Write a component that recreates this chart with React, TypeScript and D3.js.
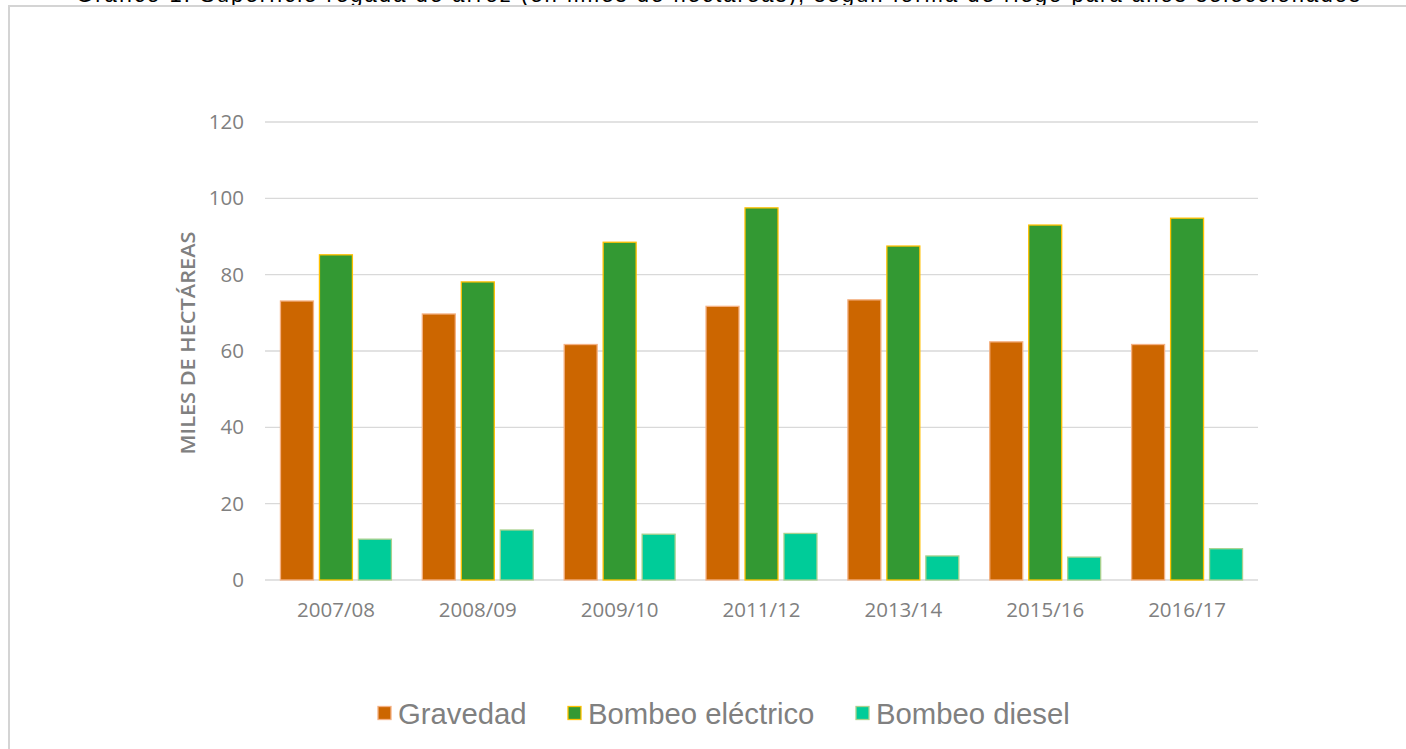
import React, { useRef, useEffect } from "react";
import * as d3 from "d3";

const categories = ["2007/08", "2008/09", "2009/10", "2011/12", "2013/14", "2015/16", "2016/17"];
const seriesNames = ["Gravedad", "Bombeo eléctrico", "Bombeo diesel"];
const gravedad = [73.1, 69.7, 61.7, 71.7, 73.4, 62.4, 61.7];
const bombeoElectrico = [85.2, 78.1, 88.5, 97.5, 87.5, 93.0, 94.8];
const bombeoDiesel = [10.7, 13.1, 12.0, 12.2, 6.3, 6.0, 8.2];
const yTicks = [0, 20, 40, 60, 80, 100, 120];
const title =
  "Gráfico 1. Superficie regada de arroz (en miles de hectáreas), según forma de riego para años seleccionados";

const fills = ["#cc6600", "#339933", "#00cc99"];
const strokes = ["#f4b183", "#ffc000", "#a9d18e"];

function App() {
  const svgRef = useRef<SVGSVGElement>(null);

  useEffect(() => {
    const width = 1406;
    const height = 749;
    const svg = d3.select(svgRef.current);
    svg.selectAll("*").remove();
    svg.attr("width", width).attr("height", height);

    svg.append("rect").attr("width", width).attr("height", height).attr("fill", "#fff");

    // caption, cut off at the top edge like in the source page
    svg.append("text")
      .attr("x", 76)
      .attr("y", 1.5)
      .attr("textLength", 1284)
      .attr("lengthAdjust", "spacing")
      .style("font-family", "'Liberation Sans', Arial, sans-serif")
      .style("font-size", "22px")
      .attr("fill", "#000")
      .text(title);

    // frame
    svg.append("rect")
      .attr("x", 9)
      .attr("y", 6)
      .attr("width", 1420)
      .attr("height", 800)
      .attr("fill", "none")
      .attr("stroke", "#d4d4d4")
      .attr("stroke-width", 2);

    const left = 265, right = 1258, top = 122, bottom = 580;

    const x = d3.scaleBand<string>()
      .domain(categories)
      .range([left, right])
      .paddingInner(0.218)
      .paddingOuter(0.109);

    const xs = d3.scaleBand<string>()
      .domain(seriesNames)
      .range([0, x.bandwidth()])
      .paddingInner(0.154);

    const y = d3.scaleLinear().domain([0, 120]).range([bottom, top]);

    // grid
    svg.append("g")
      .selectAll("line")
      .data(yTicks)
      .join("line")
      .attr("x1", left)
      .attr("x2", right)
      .attr("y1", d => y(d))
      .attr("y2", d => y(d))
      .attr("stroke", "#d9d9d9")
      .attr("stroke-width", 1.3);

    const font = "'Open Sans', sans-serif";

    const yAxis = d3.axisLeft(y).tickValues(yTicks).tickSize(0).tickPadding(21);
    const gy = svg.append("g").attr("transform", `translate(${left},0)`).call(yAxis);
    gy.select(".domain").remove();
    gy.selectAll("text")
      .style("font-family", font)
      .style("font-size", "20.5px")
      .attr("fill", "#808080");

    const xAxis = d3.axisBottom(x).tickSize(0).tickPadding(22);
    const gx = svg.append("g").attr("transform", `translate(0,${bottom})`).call(xAxis);
    gx.select(".domain").remove();
    gx.selectAll("text")
      .style("font-family", font)
      .style("font-size", "20.5px")
      .attr("fill", "#808080");

    svg.append("text")
      .attr("transform", `translate(195,343) rotate(-90)`)
      .attr("text-anchor", "middle")
      .attr("textLength", 223)
      .attr("lengthAdjust", "spacingAndGlyphs")
      .style("font-family", font)
      .style("font-size", "19px")
      .style("font-weight", 600)
      .attr("fill", "#808080")
      .text("MILES DE HECTÁREAS");

    const seriesData = [gravedad, bombeoElectrico, bombeoDiesel];

    seriesNames.forEach((name, si) => {
      svg.append("g")
        .selectAll("rect")
        .data(seriesData[si])
        .join("rect")
        .attr("x", (d, i) => (x(categories[i]) ?? 0) + (xs(name) ?? 0))
        .attr("y", d => y(d))
        .attr("width", xs.bandwidth())
        .attr("height", d => y(0) - y(d))
        .attr("fill", fills[si])
        .attr("stroke", strokes[si])
        .attr("stroke-width", 1.3);
    });

    // legend
    const legendX = [378, 568, 856];
    const lg = svg.append("g").attr("transform", "translate(0,713)");
    seriesNames.forEach((name, i) => {
      lg.append("rect")
        .attr("x", legendX[i])
        .attr("y", -6.5)
        .attr("width", 13)
        .attr("height", 13)
        .attr("fill", fills[i])
        .attr("stroke", strokes[i])
        .attr("stroke-width", 1.3);
      lg.append("text")
        .attr("x", legendX[i] + 20)
        .attr("y", 10.5)
        .style("font-family", "'Liberation Sans', Arial, sans-serif")
        .style("font-size", "29.3px")
        .attr("fill", "#808080")
        .text(name);
    });
  }, []);

  return (
    <div>
      <svg ref={svgRef} style={{ position: "absolute", left: 0, top: 0 }}></svg>
    </div>
  );
}

export default App;
